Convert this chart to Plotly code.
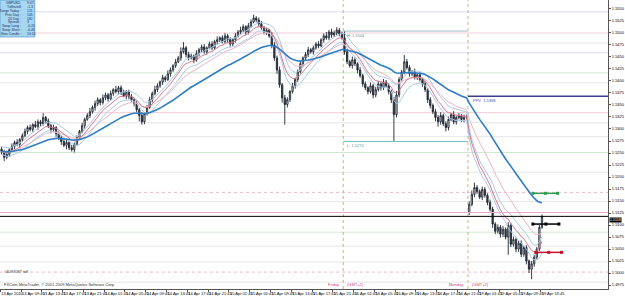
import numpy as np
import pandas as pd
import plotly.graph_objects as go

# ---------------- data (prices in pips above 1.5000, M30 bars) ----------------
BASE = 1.5000
PIP = 0.0001

close_pips = [
    253, 241, 247, 257, 264, 272, 268, 278, 286, 295,
    303, 299, 309, 305, 315, 311, 324, 317, 307, 299,
    303, 290, 282, 274, 266, 272, 261, 257, 268, 282,
    295, 307, 320, 328, 336, 345, 353, 361, 355, 365,
    371, 363, 374, 382, 378, 386, 376, 369, 378, 367,
    361, 353, 340, 328, 315, 332, 345, 361, 374, 382,
    390, 398, 407, 403, 415, 423, 432, 440, 448, 461,
    469, 455, 448, 452, 444, 457, 465, 471, 461, 469,
    477, 469, 482, 486, 490, 482, 494, 486, 477, 486,
    494, 502, 506, 513, 502, 515, 523, 531, 527, 519,
    511, 502, 506, 494, 475, 448, 423, 392, 365, 351,
    361, 378, 390, 403, 419, 436, 448, 455, 465, 461,
    469, 477, 473, 486, 494, 490, 502, 496, 500, 506,
    498, 490, 461, 440, 432, 444, 436, 423, 411, 394,
    386, 378, 390, 371, 382, 394, 386, 398, 390, 378,
    361, 330, 371, 403, 419, 440, 428, 415, 419, 407,
    413, 403, 394, 382, 361, 349, 336, 324, 315, 328,
    311, 303, 320, 330, 315, 324, 328, 320, 324, 326,
    143, 164, 178, 170, 158, 174, 162, 147, 133, 102,
    87, 95, 81, 91, 75, 99, 60, 70, 50, 62,
    39, 53, 25, 8, 19, 33, 50, 95, 118,
]
up_wick = [
    5, 4, 8, 3, 6, 4, 7, 3, 5, 6,
    4, 6, 3, 8, 5, 4, 9, 3, 5, 4,
    6, 3, 5, 4, 7, 5, 3, 6, 4, 5,
    3, 6, 4, 5, 8, 4, 6, 5, 3, 7,
    5, 4, 6, 3, 8, 4, 5, 6, 3, 4,
    6, 3, 5, 4, 7, 3, 5, 6, 4, 8,
    5, 3, 6, 4, 7, 5, 3, 6, 4, 9,
    12, 4, 6, 5, 3, 7, 4, 5, 6, 3,
    5, 6, 4, 7, 3, 5, 6, 4, 5, 3,
    6, 4, 7, 5, 3, 6, 5, 7, 4, 5,
    6, 4, 5, 3, 8, 6, 5, 7, 4, 6,
    5, 3, 6, 4, 5, 7, 3, 5, 6, 4,
    5, 4, 6, 3, 5, 8, 4, 7, 5, 6,
    4, 5, 14, 6, 4, 7, 5, 3, 6, 4,
    5, 3, 7, 4, 6, 5, 3, 6, 4, 5,
    4, 6, 8, 5, 4, 14, 6, 5, 4, 7,
    3, 5, 4, 6, 3, 5, 4, 6, 5, 7,
    4, 5, 6, 3, 7, 4, 5, 3, 6, 4,
    6, 8, 10, 5, 4, 6, 5, 4, 6, 5,
    4, 6, 5, 7, 4, 7, 5, 6, 4, 5,
    6, 4, 5, 3, 6, 5, 4, 5, 4,
]
down_wick = [
    6, 8, 4, 5, 3, 6, 4, 7, 5, 3,
    6, 4, 5, 3, 7, 5, 4, 6, 5, 8,
    4, 6, 5, 7, 4, 8, 5, 4, 6, 3,
    5, 4, 6, 3, 5, 4, 7, 5, 6, 4,
    5, 6, 3, 5, 4, 6, 5, 3, 7, 5,
    4, 6, 5, 12, 6, 5, 4, 3, 6, 4,
    5, 4, 6, 5, 3, 6, 4, 5, 3, 6,
    4, 6, 5, 3, 7, 4, 6, 5, 4, 6,
    3, 5, 4, 6, 5, 4, 3, 6, 5, 4,
    6, 3, 5, 4, 6, 5, 4, 3, 5, 6,
    4, 5, 6, 4, 7, 6, 8, 6, 10, 42,
    6, 5, 4, 6, 5, 3, 6, 4, 5, 4,
    6, 4, 5, 3, 6, 4, 5, 6, 4, 5,
    5, 4, 6, 5, 4, 6, 5, 7, 4, 6,
    5, 6, 4, 7, 5, 4, 6, 5, 4, 6,
    7, 56, 6, 5, 4, 5, 4, 6, 5, 4,
    5, 4, 6, 5, 7, 6, 5, 8, 10, 6,
    5, 8, 6, 4, 5, 6, 4, 5, 6, 4,
    5, 4, 6, 5, 4, 6, 5, 6, 5, 8,
    6, 5, 7, 6, 5, 37, 6, 5, 7, 6,
    6, 5, 7, 8, 21, 6, 5, 4, 3,
]
FIRST_OPEN_PIPS = 258
MONDAY_OPEN_PIPS = 126
FRIDAY_START = 132     # bar index of Friday 00:00
MONDAY_START = 180     # bar index of Monday 00:00

time_labels = [
    "13 Apr 2010", "13 Apr 09:45", "13 Apr 13:45", "13 Apr 17:45", "13 Apr 21:45",
    "14 Apr 01:45", "14 Apr 05:45", "14 Apr 09:45", "14 Apr 13:45", "14 Apr 17:45",
    "14 Apr 21:45", "15 Apr 01:45", "15 Apr 05:45", "15 Apr 09:45", "15 Apr 13:45",
    "15 Apr 17:45", "15 Apr 21:45", "16 Apr 01:45", "16 Apr 05:45", "16 Apr 09:45",
    "16 Apr 13:45", "16 Apr 17:45", "16 Apr 21:45", "19 Apr 01:45", "19 Apr 05:45",
    "19 Apr 09:45", "19 Apr 13:45",
]
price_ticks = [1.5550, 1.5525, 1.5500, 1.5475, 1.5450, 1.5425, 1.5400, 1.5375,
               1.5350, 1.5325, 1.5300, 1.5275, 1.5250, 1.5225, 1.5200, 1.5175,
               1.5150, 1.5125, 1.5100, 1.5075, 1.5050, 1.5025, 1.5000, 1.4975]

level_pips = [544, 500, 479, 459, 417, 396, 334, 313, 284, 251, 210, 168, 149, 85, 56, 23, 2, -19]
level_kind = ["lav", "pink", "gray", "lav", "green", "gray", "pink", "gray", "gray",
              "green", "gray", "pinkdot", "gray", "green", "gray", "gray", "pinkdot", "gray"]

marker_levels = [166, 102, 43]          # green, black, red projection marks

info_labels = ["GBPUSD", "Tuffnuts8", "Range Today :", "Prev Day :", "20 Day :",
               "Spread :", "Swap Long :", "Swap Short :", "New Candle :"]
info_values = ["9:47", "-1.3", "121", "145", "182", "3", "-0.23", "-0.49", "10:10"]

# ---------------- build ----------------
n = len(close_pips)
bars = np.arange(n)
to_price = lambda p: BASE + np.asarray(p, dtype=float) * PIP
close = to_price(close_pips)
open_p = np.concatenate([[FIRST_OPEN_PIPS], close_pips[:-1]]).astype(float)
open_p[MONDAY_START] = MONDAY_OPEN_PIPS
opn = to_price(open_p)
high = np.maximum(opn, close) + np.asarray(up_wick) * PIP
low = np.minimum(opn, close) - np.asarray(down_wick) * PIP

ema = lambda a, k: pd.Series(a).ewm(span=k, adjust=False).mean().to_numpy()

fri = slice(FRIDAY_START, MONDAY_START)
H = high[fri].max(); L = low[fri].min(); C = close[MONDAY_START - 1]
PP = (H + L + C) / 3

FONT = "Liberation Sans, Arial, sans-serif"
PLOT_W, PLOT_H = 613, 290
X0, X1 = -0.6, 233.4
Y0, Y1 = 1.49667, 1.55687

fig = go.Figure()

fig.add_trace(go.Candlestick(
    x=bars, open=opn, high=high, low=low, close=close,
    increasing=dict(line=dict(color="#1e2530", width=0.9), fillcolor="#ffffff"),
    decreasing=dict(line=dict(color="#1e2530", width=0.9), fillcolor="#3d4654"),
    whiskerwidth=0, showlegend=False, hoverinfo="skip"))

ma_specs = [
    (ema(high, 10), "#a9c9ea", 1.0),
    (ema(low, 10), "#a9c9ea", 1.0),
    (ema(close, 20), "#ebb7c3", 1.0),
    (ema(close, 10), "#d7788c", 1.0),
    (ema(close, 40), "#2f7cc6", 1.6),
]
for vals, col, w in ma_specs:
    fig.add_trace(go.Scatter(x=bars, y=vals, mode="lines",
                             line=dict(color=col, width=w), showlegend=False, hoverinfo="skip"))

mk_colors = ["#2e9e50", "#000000", "#c8102e"]
mk_x = [[204.5, 209.3, 214.0], [204.5, 209.5, 214.5], [205.6, 210.6, 215.5]]
for lv, col, xs in zip(marker_levels, mk_colors, mk_x):
    fig.add_trace(go.Scatter(x=xs, y=[BASE + lv * PIP] * 3, mode="lines+markers",
                             line=dict(color=col, width=1.5),
                             marker=dict(symbol="square", size=3, color=col),
                             showlegend=False, hoverinfo="skip"))

kind_style = {"lav": ("#dcdcf2", "solid"), "pink": ("#f2cdd6", "solid"),
              "gray": ("#e6e6e6", "solid"), "green": ("#cfe9cf", "solid"),
              "pinkdot": ("#ebb8c6", "dot")}
shapes = []
for lv, kind in zip(level_pips, level_kind):
    col, dash = kind_style[kind]
    shapes.append(dict(type="line", xref="paper", x0=0, x1=1, yref="y",
                       y0=BASE + lv * PIP, y1=BASE + lv * PIP,
                       line=dict(color=col, width=1, dash=dash), layer="below"))
for d in (FRIDAY_START, MONDAY_START):
    shapes.append(dict(type="line", xref="x", x0=d - 0.5, x1=d - 0.5, yref="paper", y0=0, y1=1,
                       line=dict(color="#c8b878", width=1, dash="dot"), layer="below"))
shapes.append(dict(type="line", xref="x", x0=FRIDAY_START - 0.5, x1=MONDAY_START - 0.5,
                   yref="y", y0=H, y1=H, line=dict(color="#9fbccb", width=1)))
shapes.append(dict(type="line", xref="x", x0=FRIDAY_START - 0.5, x1=MONDAY_START - 0.5,
                   yref="y", y0=L, y1=L, line=dict(color="#74c2c8", width=1)))
shapes.append(dict(type="line", xref="x", x0=MONDAY_START - 0.5, x1=X1,
                   yref="y", y0=PP, y1=PP, line=dict(color="#3a3f8f", width=1.5)))
mo = BASE + MONDAY_OPEN_PIPS * PIP
shapes.append(dict(type="line", xref="paper", x0=0, x1=1, yref="y", y0=mo, y1=mo,
                   line=dict(color="#e6a6d2", width=1)))
shapes.append(dict(type="line", xref="paper", x0=0, x1=1, yref="y", y0=close[-1], y1=close[-1],
                   line=dict(color="#000000", width=1)))
shapes.append(dict(type="rect", xref="paper", yref="paper", x0=0, x1=35 / PLOT_W,
                   y0=1 - 37 / PLOT_H, y1=1, fillcolor="#a6d6f0",
                   line=dict(color="#6aaad8", width=1)))

ann = []
for k, (lab, val) in enumerate(zip(info_labels, info_values)):
    yy = 1 - (3 + 3.9 * k) / PLOT_H
    ann.append(dict(xref="paper", yref="paper", x=23.5 / PLOT_W, y=yy, text=lab,
                    xanchor="right", yanchor="middle", showarrow=False,
                    font=dict(size=3.4, color="#1c2e5a", family=FONT)))
    ann.append(dict(xref="paper", yref="paper", x=25.5 / PLOT_W, y=yy, text=val,
                    xanchor="left", yanchor="middle", showarrow=False,
                    font=dict(size=3.4, color="#1c2e5a", family=FONT)))

small = dict(size=4, color="#333333", family=FONT)
ann.append(dict(xref="paper", yref="paper", x=2 / PLOT_W, y=1 - 272 / PLOT_H, text="#4097087 tell",
                xanchor="left", yanchor="middle", showarrow=False, font=small))
ann.append(dict(xref="paper", yref="paper", x=2 / PLOT_W, y=1 - 285.5 / PLOT_H,
                text="FXCom MetaTrader, © 2001-2009 MetaQuotes Software Corp.",
                xanchor="left", yanchor="middle", showarrow=False, font=small))
pinkf = dict(size=4, color="#cc4477", family=FONT)
for d, name in ((FRIDAY_START, "Friday"), (MONDAY_START, "Monday")):
    ann.append(dict(xref="x", yref="paper", x=d - 1.5, y=1 - 285.5 / PLOT_H, text=name,
                    xanchor="right", yanchor="middle", showarrow=False, font=pinkf))
    ann.append(dict(xref="x", yref="paper", x=d + 0.3, y=1 - 285.5 / PLOT_H, text="(GMT+2)",
                    xanchor="left", yanchor="middle", showarrow=False, font=pinkf))
ann.append(dict(xref="x", yref="y", x=FRIDAY_START + 0.3, y=H, text=f"H: {H:.4f}",
                xanchor="left", yanchor="top", showarrow=False,
                font=dict(size=4, color="#7090a0", family=FONT)))
ann.append(dict(xref="x", yref="y", x=FRIDAY_START + 0.3, y=L, text=f"L: {L:.4f}",
                xanchor="left", yanchor="top", showarrow=False,
                font=dict(size=4, color="#50a0a8", family=FONT)))
ann.append(dict(xref="x", yref="y", x=MONDAY_START + 0.5, y=PP, text=f"PPV  {PP:.4f}",
                xanchor="left", yanchor="top", showarrow=False,
                font=dict(size=4, color="#4a4f9f", family=FONT)))
ann.append(dict(xref="paper", yref="y", x=1, y=close[-1], text=f"{close[-1]:.4f}",
                xanchor="left", yanchor="top", showarrow=False, xshift=1, yshift=-0.5,
                bgcolor="#000000", borderpad=0,
                font=dict(size=3.6, color="#ffffff", family=FONT)))

tick_pos = [-0.5 + 8 * k for k in range(len(time_labels))]

fig.update_layout(
    width=625, height=296,
    margin=dict(l=0, r=625 - PLOT_W, t=0, b=296 - PLOT_H),
    paper_bgcolor="#ffffff", plot_bgcolor="#ffffff",
    font=dict(family=FONT, size=4, color="#000000"),
    shapes=shapes, annotations=ann, showlegend=False,
    xaxis=dict(range=[X0, X1], rangeslider=dict(visible=False), showgrid=False,
               zeroline=False, showline=True, linecolor="#555555", linewidth=1,
               tickmode="array", tickvals=tick_pos, ticktext=time_labels,
               ticks="outside", ticklen=2, tickcolor="#555555", tickangle=0,
               ticklabelposition="outside right",
               tickfont=dict(size=4, color="#000000", family=FONT)),
    yaxis=dict(range=[Y0, Y1], side="right", showgrid=False, zeroline=False,
               showline=True, linecolor="#555555", linewidth=1,
               tickmode="array", tickvals=price_ticks,
               ticktext=[f"{v:.4f}" for v in price_ticks],
               ticks="outside", ticklen=2, tickcolor="#555555",
               tickfont=dict(size=4, color="#000000", family=FONT)),
)

fig.write_html("out.html")
